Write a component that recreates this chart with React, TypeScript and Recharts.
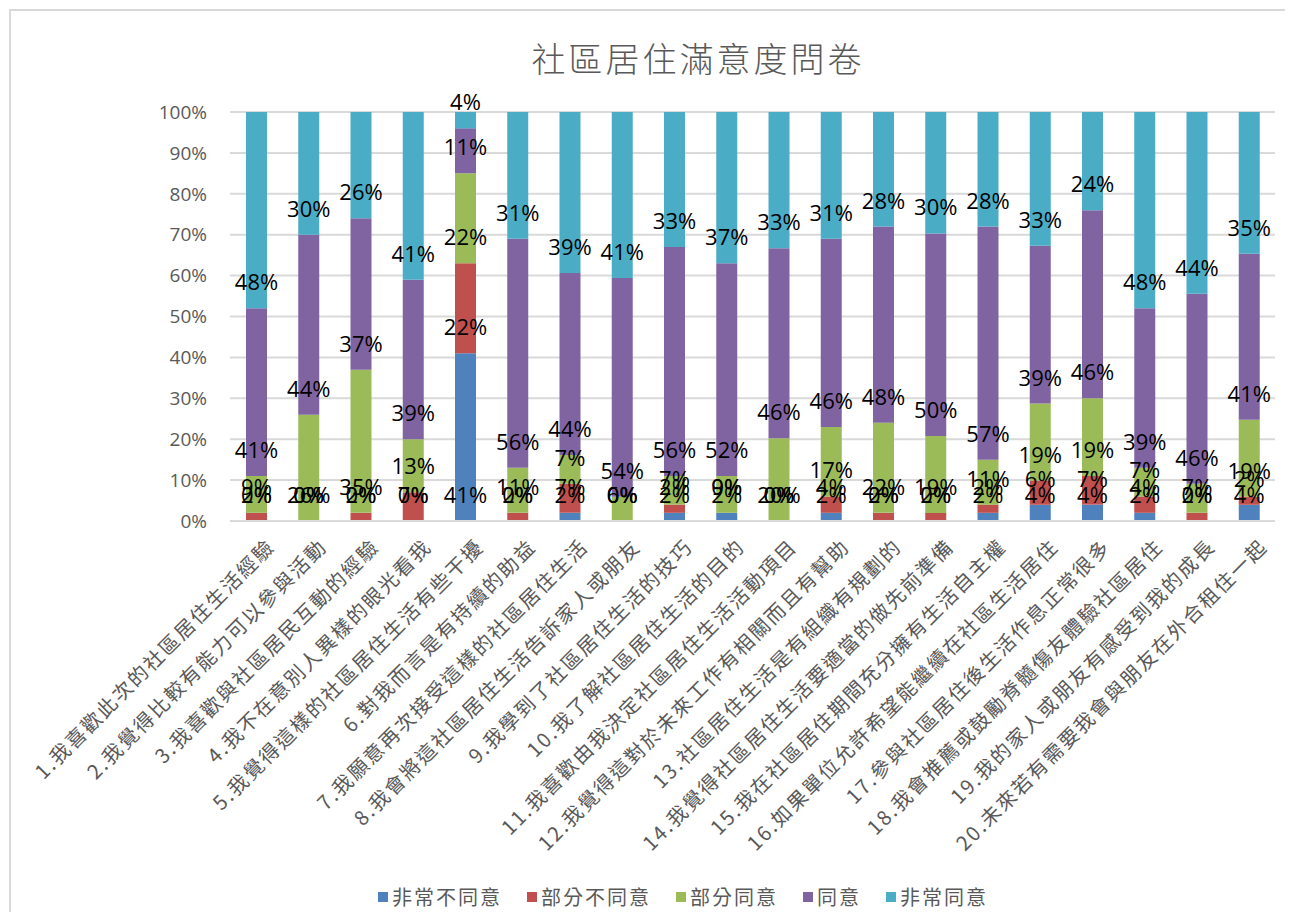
import React from 'react';
import { BarChart, Bar, XAxis, YAxis, CartesianGrid, LabelList } from 'recharts';

const categories = [
  '1.我喜歡此次的社區居住生活經驗',
  '2.我覺得比較有能力可以參與活動',
  '3.我喜歡與社區居民互動的經驗',
  '4.我不在意別人異樣的眼光看我',
  '5.我覺得這樣的社區居住生活有些干擾',
  '6.對我而言是有持續的助益',
  '7.我願意再次接受這樣的社區居住生活',
  '8.我會將這社區居住生活告訴家人或朋友',
  '9.我學到了社區居住生活的技巧',
  '10.我了解社區居住生活的目的',
  '11.我喜歡由我決定社區居住生活活動項目',
  '12.我覺得這對於未來工作有相關而且有幫助',
  '13.社區居住生活是有組織有規劃的',
  '14.我覺得社區居住生活要適當的做先前準備',
  '15.我在社區居住期間充分擁有生活自主權',
  '16.如果單位允許希望能繼續在社區生活居住',
  '17.參與社區居住後生活作息正常很多',
  '18.我會推薦或鼓勵脊髓傷友體驗社區居住',
  '19.我的家人或朋友有感受到我的成長',
  '20.未來若有需要我會與朋友在外合租住一起',
];

const seriesNames = ['非常不同意', '部分不同意', '部分同意', '同意', '非常同意'];
const seriesColors = ['#4F81BD', '#C0504D', '#9BBB59', '#8064A2', '#4BACC6'];

const stronglyDisagree = [0, 0, 0, 0, 41, 0, 2, 0, 2, 2, 0, 2, 0, 0, 2, 4, 4, 2, 0, 4];
const partlyDisagree = [2, 0, 2, 7, 22, 2, 7, 0, 2, 0, 0, 4, 2, 2, 2, 6, 7, 4, 2, 2];
const partlyAgree = [9, 26, 35, 13, 22, 11, 7, 6, 7, 9, 20, 17, 22, 19, 11, 19, 19, 7, 7, 19];
const agree = [41, 44, 37, 39, 11, 56, 44, 54, 56, 52, 46, 46, 48, 50, 57, 39, 46, 39, 46, 41];
const stronglyAgree = [48, 30, 26, 41, 4, 31, 39, 41, 33, 37, 33, 31, 28, 30, 28, 33, 24, 48, 44, 35];

const yTicks = [0, 0.1, 0.2, 0.3, 0.4, 0.5, 0.6, 0.7, 0.8, 0.9, 1];

const seriesValues = [stronglyDisagree, partlyDisagree, partlyAgree, agree, stronglyAgree];
const seriesKeys = ['s0', 's1', 's2', 's3', 's4'];

const data = categories.map((name, i) => {
  const row: Record<string, any> = { name };
  seriesKeys.forEach((k, s) => {
    row[k] = seriesValues[s][i];
  });
  return row;
});

const CJK = '"Noto Sans CJK TC", "Noto Sans CJK SC", sans-serif';
const LATIN = '"Open Sans", "Noto Sans", sans-serif';

// Drawn from the top series (never zero), so every segment — including the
// zero-height ones Excel still labels — gets its label, placed at the
// segment's base like Excel's "inside base" position.
const AllLabels = (props: any) => {
  const vb = props.viewBox || {};
  const x = Number(vb.x ?? props.x);
  const y0 = Number(vb.y ?? props.y);
  const h0 = Number(vb.height ?? props.height);
  const w = Number(vb.width ?? props.width);
  const y = Math.min(y0, y0 + h0);
  const h = Math.abs(h0);
  const i = props.index;
  if (typeof i !== 'number') return null;
  const vals = seriesValues.map((a) => a[i]);
  const total = vals.reduce((a, b) => a + b, 0);
  const topFrac = vals[vals.length - 1] / total;
  if (!topFrac) return null;
  const unit = h / topFrac;
  const stackBottom = y + unit;
  let cum = 0;
  return (
    <g>
      {vals.map((v, s) => {
        const base = stackBottom - (cum / total) * unit;
        cum += v;
        return (
          <text
            key={s}
            x={x + w / 2}
            y={base - 27}
            textAnchor="middle"
            dominantBaseline="central"
            fontSize={22}
            fill="#000000"
            fontFamily={LATIN}
          >
            {v}%
          </text>
        );
      })}
    </g>
  );
};

const CategoryTick = (props: any) => {
  const { x, y, payload } = props;
  const ax = x + 14;
  const ay = y + 21;
  return (
    <text
      x={ax}
      y={ay}
      transform={`rotate(-45, ${ax}, ${ay})`}
      textAnchor="end"
      dominantBaseline="central"
      fontSize={20}
      letterSpacing={2}
      fill="#595959"
      fontFamily={CJK}
    >
      {payload.value}
    </text>
  );
};

export default function App() {
  const last = seriesKeys.length - 1;
  return (
    <div style={{ position: 'relative', width: 1285, height: 904, overflow: 'hidden', background: '#fff' }}>
      <div
        style={{
          position: 'absolute',
          left: 1,
          top: 1,
          width: 1400,
          height: 1000,
          borderLeft: '2px solid #d9d9d9',
          borderTop: '2px solid #d9d9d9',
        }}
      />
      <div
        style={{
          position: 'absolute',
          left: 0,
          width: 1380,
          top: 28,
          textAlign: 'center',
          fontFamily: CJK,
          fontSize: 34,
          letterSpacing: 3,
          color: '#595959',
          fontWeight: 300,
          lineHeight: '44px',
        }}
      >
        社區居住滿意度問卷
      </div>
      <div style={{ position: 'absolute', left: 0, top: 0 }}>
        <BarChart
          width={1285}
          height={904}
          data={data}
          stackOffset="expand"
          margin={{ top: 104, right: 18, bottom: 91, left: 122 }}
          barSize={21}
        >
          <CartesianGrid vertical={false} stroke="#d9d9d9" strokeWidth={2} />
          <XAxis
            dataKey="name"
            interval={0}
            height={300}
            tickLine={false}
            tickSize={0}
            tickMargin={0}
            axisLine={{ stroke: '#d9d9d9', strokeWidth: 2 }}
            tick={<CategoryTick />}
          />
          <YAxis
            width={100}
            ticks={yTicks}
            domain={[0, 1]}
            axisLine={false}
            tickLine={false}
            tickSize={0}
            tickMargin={23}
            tickFormatter={(v: number) => `${Math.round(v * 100)}%`}
            tick={{ fontSize: 19, fill: '#595959', fontFamily: LATIN }}
          />
          {seriesKeys.map((k, s) => (
            <Bar
              key={k}
              dataKey={k}
              name={seriesNames[s]}
              stackId="a"
              fill={seriesColors[s]}
              isAnimationActive={false}
            >
              {s === last ? <LabelList dataKey={k} content={AllLabels} /> : null}
            </Bar>
          ))}
        </BarChart>
      </div>
      <div
        style={{
          position: 'absolute',
          left: 370,
          top: 875,
          display: 'flex',
          alignItems: 'center',
          gap: 25,
          fontFamily: CJK,
          fontSize: 20,
          letterSpacing: 2,
          color: '#595959',
          lineHeight: '28px',
        }}
      >
        {seriesNames.map((n, s) => (
          <div key={n} style={{ display: 'flex', alignItems: 'center' }}>
            <span style={{ display: 'inline-block', width: 10, height: 10, background: seriesColors[s], marginRight: 4 }} />
            <span>{n}</span>
          </div>
        ))}
      </div>
    </div>
  );
}
